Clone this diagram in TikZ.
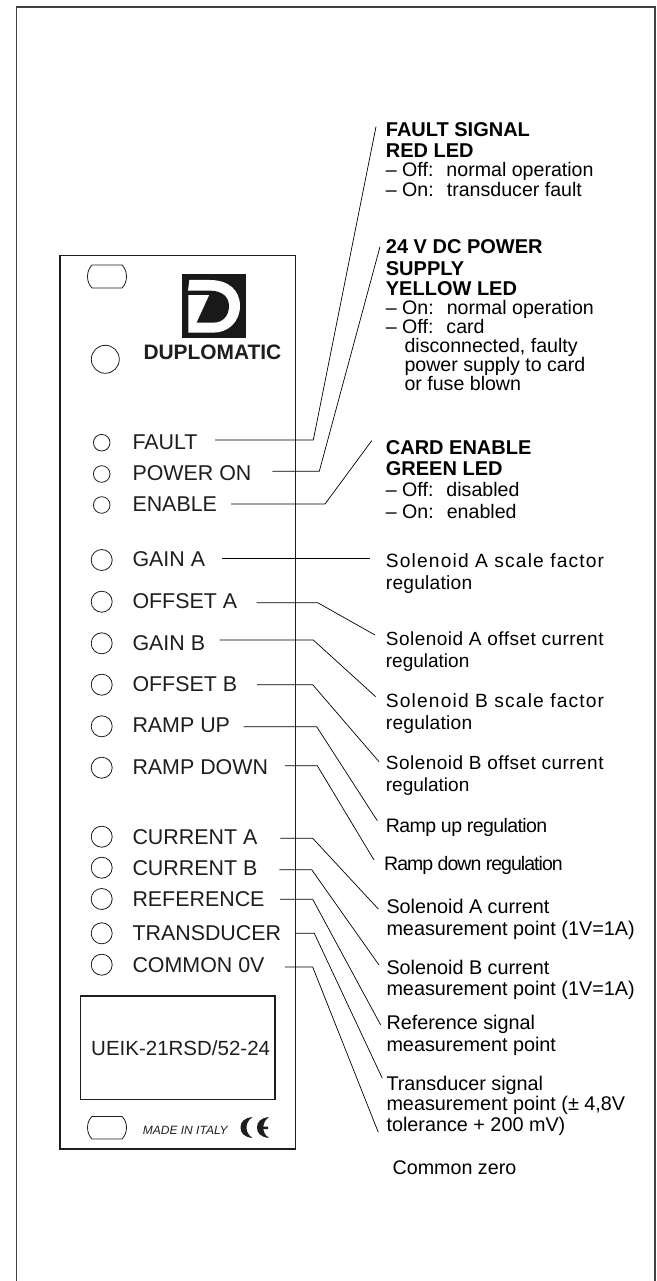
\documentclass[tikz,border=0pt]{standalone}
\usepackage{fontspec}
\usepackage{array}
\setmainfont{Liberation Sans}
\definecolor{ink}{HTML}{1E1E1E}
\newcommand{\blk}[3]{{\fontsize{#1}{#2}\selectfont\begin{tabular}[t]{@{}l@{}}#3\end{tabular}}}
\newcommand{\wgap}{\hspace*{13pt}}
\newcommand{\bld}{\fontsize{20}{21}\selectfont\bfseries}
\newcommand{\wide}[1]{\addfontfeatures{LetterSpace=#1}}
\tikzset{
  frameline/.style={draw=ink!85,line width=1.3pt},
  panelline/.style={draw=ink,line width=1.3pt},
  lead/.style={draw=black,line width=0.7pt},
  hole/.style={draw=ink,line width=0.8pt,fill=white},
  panellabel/.style={anchor=base west,inner sep=0pt,text=ink,font=\fontsize{21.4}{22}\selectfont},
  note/.style={anchor=base west,inner sep=0pt,text=black},
}
\begin{document}
\begin{tikzpicture}[x=1pt,y=-1pt]
\useasboundingbox (0,0) rectangle (656,1281);
\fill[white] (0,0) rectangle (656,1281);
% outer frame
\draw[frameline] (16.5,1281) -- (16.5,7) -- (655,7) -- (655,1281);
% panel
\draw[panelline] (60,255.7) rectangle (295.5,1149);
% slots
\draw[hole] (92,265) -- (122,265) .. controls (128,271) and (128,282) .. (122,288) -- (92,288) .. controls (86,282) and (86,271) .. (92,265) -- cycle;
\draw[hole] (92,1116.5) -- (122,1116.5) .. controls (128,1122) and (128,1133) .. (122,1139) -- (92,1139) .. controls (86,1133) and (86,1122) .. (92,1116.5) -- cycle;
% logo
\fill[black!90] (181.5,274) rectangle (245.7,337.7);
\begin{scope}[shift={(50,270)},x=0.3333pt,y=-0.3333pt]
\fill[white] (418,30) -- (480,30) .. controls (535,30) and (570,60) .. (570,108) .. controls (570,155) and (535,188) .. (490,188) -- (415,188) -- (415,75) -- (414,62) -- cycle;
\fill[black!90] (412,62) -- (480,62) .. controls (515,62) and (537,80) .. (537,108) .. controls (537,138) and (518,158) .. (490,158) -- (440,158) -- (478,75) -- (412,75) -- cycle;
\end{scope}
\node[anchor=base west,inner sep=0pt,text=ink,font=\bfseries\fontsize{20.9}{22}\selectfont] (brand) at (143.3,359.3) {DUPLOMATIC};
\draw[hole] (105.3,359.3) circle (14);
% LEDs
\draw[hole] (101.7,442.7) circle (8.3);
\draw[hole] (101.7,474) circle (8.3);
\draw[hole] (101.7,505) circle (8.3);
% test points
\foreach \yy in {560,601.7,643.3,684.7,726.3,767.7,836.7,867.7,899,933.3,964.7}
  \draw[hole] (101.7,\yy) circle (10.5);
% panel labels
\node[panellabel] (lFault) at (132.3,449) {FAULT};
\node[panellabel] (lPower) at (132.3,480.5) {POWER ON};
\node[panellabel] (lEnable) at (132.3,511.5) {ENABLE};
\node[panellabel] (lGainA) at (132.3,566.7) {GAIN A};
\node[panellabel] (lOffA) at (132.3,608.3) {OFFSET A};
\node[panellabel] (lGainB) at (132.3,650) {GAIN B};
\node[panellabel] (lOffB) at (132.3,691) {OFFSET B};
\node[panellabel] (lUp) at (132.3,732.7) {RAMP UP};
\node[panellabel] (lDown) at (132.3,774.3) {RAMP DOWN};
\node[panellabel] (lCurA) at (132.3,844) {CURRENT A};
\node[panellabel] (lCurB) at (132.3,875) {CURRENT B};
\node[panellabel] (lRef) at (132.3,906) {REFERENCE};
\node[panellabel] (lTrans) at (132.3,940.7) {TRANSDUCER};
\node[panellabel] (lCom) at (132.3,972.3) {COMMON 0V};
% label plate
\draw[panelline] (80.7,996) rectangle (275,1099.7);
\node[anchor=base west,inner sep=0pt,text=ink,font=\fontsize{20.5}{22}\selectfont] (model) at (91,1055) {UEIK-21RSD/52-24};
\node[anchor=base west,inner sep=0pt,text=ink,font=\itshape\fontsize{12}{13}\selectfont] (made) at (142.7,1134.3) {MADE IN ITALY};
% CE mark
\fill[ink] (252.5,1117) .. controls (244,1118) and (240.5,1122) .. (240.5,1127.5) .. controls (240.5,1133) and (244,1137) .. (252.5,1138) .. controls (248,1135) and (246.5,1131) .. (246.5,1127.5) .. controls (246.5,1124) and (248,1120) .. (252.5,1117) -- cycle;
\fill[ink] (269,1117) .. controls (260.5,1118) and (257,1122) .. (257,1127.5) .. controls (257,1133) and (260.5,1137) .. (269,1138) .. controls (265,1135) and (263.5,1132) .. (263.2,1129) -- (268,1129) -- (268,1126.5) -- (263.2,1126.5) .. controls (263.5,1123) and (265,1120) .. (269,1117) -- cycle;
% right-hand notes
\node[note] (nFault) at (385.7,136.7) {\blk{19.6}{21}{\bld FAULT SIGNAL\\[-0.5pt]
  \bld RED LED\\[-2pt]
  -- Off:\wgap normal operation\\[-0.5pt]
  -- On:\wgap transducer fault}};
\node[note] (nPower) at (385.7,254) {\blk{19.6}{21}{\bld 24 V DC POWER\\
  \bld SUPPLY\\
  \bld YELLOW LED\\[-3pt]
  -- On:\wgap normal operation\\[-1.5pt]
  -- Off:\wgap card\\[-2pt]
  \hspace*{18.6pt}disconnected, faulty\\[-2.5pt]
  \hspace*{18.6pt}power supply to card\\[-2pt]
  \hspace*{18.6pt}or fuse blown}};
\node[note] (nEnable) at (385.7,454) {\blk{19.6}{21}{\bld CARD ENABLE\\
  \bld GREEN LED\\[0.7pt]
  -- Off:\wgap disabled\\[0.6pt]
  -- On:\wgap enabled}};
\node[note] (nSolA) at (385.7,567.7) {\blk{19.2}{21.6}{\wide{6}Solenoid A scale factor\\ \wide{1.2}regulation}};
\node[note] (nOffA) at (385.7,645.5) {\blk{19}{21.5}{\wide{2.5}Solenoid A offset current\\regulation}};
\node[note] (nSolB) at (385.7,707.5) {\blk{19.2}{21.6}{\wide{6}Solenoid B scale factor\\ \wide{1.2}regulation}};
\node[note] (nOffB) at (385.7,769.5) {\blk{19}{21.5}{\wide{2.5}Solenoid B offset current\\regulation}};
\node[note,font=\fontsize{19.5}{21}\selectfont\addfontfeatures{LetterSpace=-3}] (nUp) at (385.7,832.7) {Ramp up regulation};
\node[note,font=\fontsize{19.5}{21}\selectfont\addfontfeatures{LetterSpace=-5}] (nDown) at (384,870.7) {Ramp down regulation};
\node[note] (nCurA) at (386.3,913.3) {\blk{19.8}{21.7}{Solenoid A current\\measurement point (1V=1A)}};
\node[note] (nCurB) at (386.3,974.3) {\blk{19.8}{20.7}{Solenoid B current\\measurement point (1V=1A)}};
\node[note] (nRef) at (386.3,1029.3) {\blk{19.8}{22.3}{Reference signal\\measurement point}};
\node[note] (nTrans) at (386.3,1090) {\blk{19.8}{20.9}{Transducer signal\\measurement point (± 4,8V\\tolerance + 200 mV)}};
\node[note,font=\fontsize{19.7}{21}\selectfont] (nCom) at (392.4,1174.3) {Common zero};
% connector points
\coordinate (a1) at (215,440);    \coordinate (b1) at (313.3,440);   \coordinate (c1) at (376,126.7);
\coordinate (a2) at (272.3,471.3);\coordinate (b2) at (319.3,471.3); \coordinate (c2) at (380,246.7);
\coordinate (a3) at (231,504);    \coordinate (b3) at (325,504);     \coordinate (c3) at (371.7,440.7);
\coordinate (a4) at (222,558.3);  \coordinate (c4) at (370,558.3);
\coordinate (a5) at (256.7,602.7);\coordinate (b5) at (317.7,602.7); \coordinate (c5) at (375,635);
\coordinate (a6) at (219.7,640);  \coordinate (b6) at (313.3,640);   \coordinate (c6) at (375.7,696.7);
\coordinate (a7) at (257,684.7);  \coordinate (b7) at (312.7,684.7); \coordinate (c7) at (379,761.7);
\coordinate (a8) at (243.7,726.7);\coordinate (b8) at (316.7,726.7); \coordinate (c8) at (377.3,820.7);
\coordinate (a9) at (285,765.7);  \coordinate (b9) at (317.3,765.7); \coordinate (c9) at (374,860);
\coordinate (a10) at (280.3,838.3);\coordinate (b10) at (312.7,838.3);\coordinate (c10) at (378.3,909);
\coordinate (a11) at (279.3,869.7);\coordinate (b11) at (311.7,869.7);\coordinate (c11) at (379,965);
\coordinate (a12) at (280,899.3); \coordinate (b12) at (312.7,899.3);\coordinate (c12) at (380.7,1025);
\coordinate (a13) at (296,933.3); \coordinate (b13) at (314.3,933.3);\coordinate (c13) at (382.3,1078.3);
\coordinate (a14) at (285,967);   \coordinate (b14) at (312.7,967);  \coordinate (c14) at (378.3,1132.3);
\draw[lead] (a4) -- (c4);
\foreach \i in {1,2,3,5,6,7,8,9,10,11,12,13,14}
  \draw[lead] (a\i) -- (b\i) -- (c\i);
\end{tikzpicture}
\end{document}
